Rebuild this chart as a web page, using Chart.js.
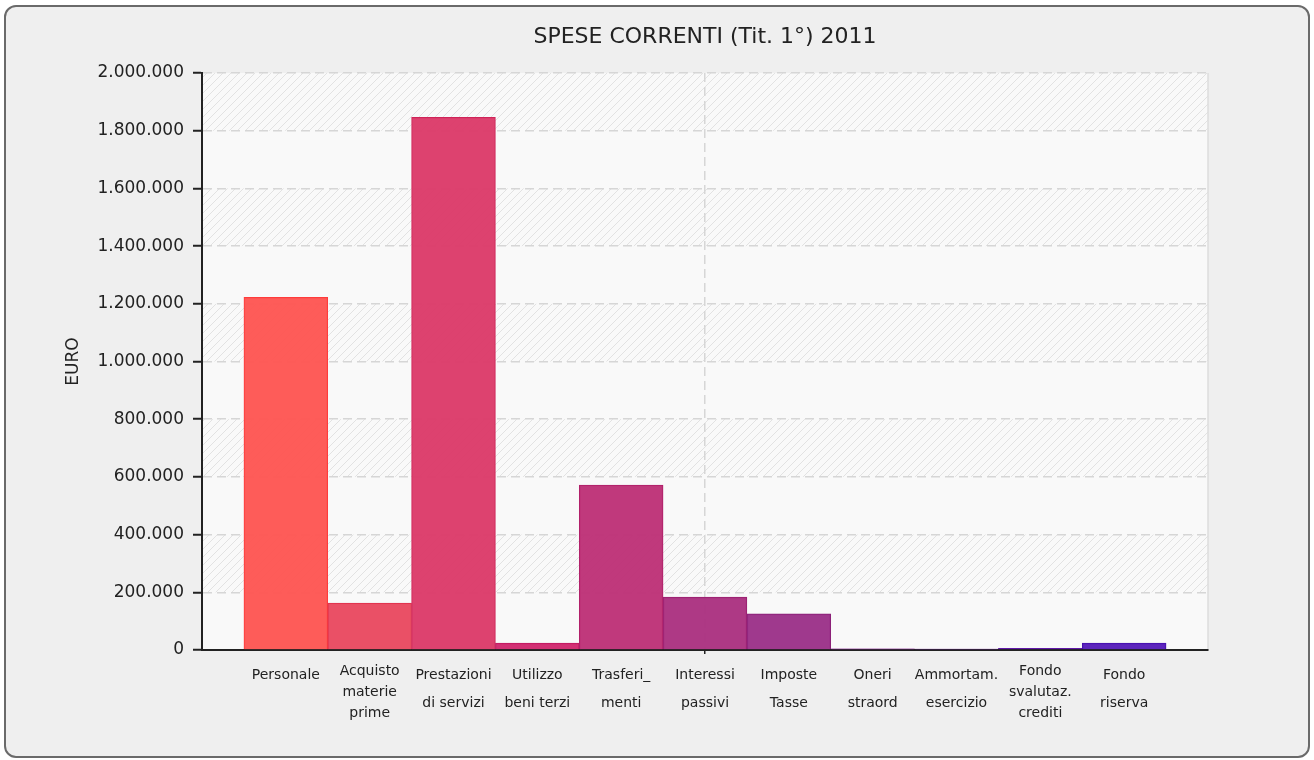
<!DOCTYPE html>
<html>
<head>
<meta charset="utf-8">
<script src="https://cdn.jsdelivr.net/npm/chart.js@4/dist/chart.umd.min.js"></script>
<style>
  body { margin: 0; background: #ffffff; }
  #frame {
    position: absolute; left: 4px; top: 5px; width: 1306px; height: 753px;
    box-sizing: border-box; border: 2px solid #6a6a6a; border-radius: 12px;
    background: #efefef;
  }
  #speseChart { position: absolute; left: 0; top: 0; }
</style>
</head>
<body>
<div id="frame"></div>
<canvas id="speseChart" width="1314" height="760"></canvas>
<script>
// categorie (etichette su più righe)
const categorie = [
    ['Personale'],
    ['Acquisto', 'materie', 'prime'],
    ['Prestazioni', 'di servizi'],
    ['Utilizzo', 'beni terzi'],
    ['Trasferi_', 'menti'],
    ['Interessi', 'passivi'],
    ['Imposte', 'Tasse'],
    ['Oneri', 'straord'],
    ['Ammortam.', 'esercizio'],
    ['Fondo', 'svalutaz.', 'crediti'],
    ['Fondo', 'riserva']
];
// importi in euro
const importi = [1222000, 163000, 1846000, 24000, 572000, 183000, 125000, 4000, 3000, 6000, 24000];
const colori = ['#fe5552', '#e9485f', '#db3968', '#d0286e', '#bd3076', '#aa3080',
                '#9b3088', '#8c2896', '#7d23a0', '#691eaf', '#561cba'];
const bordi = ['#ff3b3b', '#e0304c', '#cf2458', '#c01a60', '#b0206a', '#9a2070',
               '#8a2078', '#7c1c88', '#6c1894', '#5a14a4', '#4610ac'];
const yTicks = { min: 0, max: 2000000, step: 200000 };
const titolo = 'SPESE CORRENTI (Tit. 1°) 2011';

function formatEuro(v) {
    return String(v).replace(/\B(?=(\d{3})+(?!\d))/g, '.');
}

function makeHatch(ctx) {
    const c = document.createElement('canvas');
    c.width = 8; c.height = 8;
    const p = c.getContext('2d');
    p.strokeStyle = '#e2e2e2';
    p.lineWidth = 1;
    p.beginPath();
    p.moveTo(0, 8); p.lineTo(8, 0);
    p.moveTo(-1, 1); p.lineTo(1, -1);
    p.moveTo(7, 9); p.lineTo(9, 7);
    p.stroke();
    return ctx.createPattern(c, 'repeat');
}

// sfondo dell'area grafico a fasce tratteggiate
const plotBack = {
    id: 'plotBack',
    beforeDraw(chart) {
        const { ctx, chartArea: a, scales: { y } } = chart;
        ctx.save();
        ctx.fillStyle = '#f9f9f9';
        ctx.fillRect(a.left, a.top, a.right - a.left, a.bottom - a.top);
        const pat = makeHatch(ctx);
        for (let i = 0; i < y.ticks.length - 1; i++) {
            if (i % 2 === 0) continue;
            const y0 = y.getPixelForValue(y.ticks[i].value);
            const y1 = y.getPixelForValue(y.ticks[i + 1].value);
            ctx.fillStyle = pat;
            ctx.fillRect(a.left, y1, a.right - a.left, y0 - y1);
        }
        ctx.strokeStyle = '#dddddd';
        ctx.lineWidth = 1.5;
        ctx.beginPath();
        ctx.moveTo(a.right, a.top);
        ctx.lineTo(a.right, a.bottom);
        ctx.stroke();
        ctx.restore();
    }
};

document.addEventListener('DOMContentLoaded', function () {
    const ctx = document.getElementById('speseChart').getContext('2d');
    const centro = Math.floor(categorie.length / 2);
    new Chart(ctx, {
        type: 'bar',
        data: {
            datasets: [{
                label: 'EURO',
                data: importi.map((v, i) => ({ x: i, y: v })),
                backgroundColor: colori.map(c => c + 'f4'),
                borderColor: bordi,
                borderWidth: 1,
                barPercentage: 1,
                categoryPercentage: 1
            }]
        },
        options: {
            responsive: false,
            animation: false,
            layout: { padding: { top: 0, left: 0, right: 106, bottom: 0 } },
            plugins: {
                legend: { display: false },
                tooltip: { enabled: false },
                title: {
                    display: true,
                    text: titolo,
                    fullSize: false,
                    color: '#222222',
                    font: { family: 'DejaVu Sans', size: 22, weight: 'normal', lineHeight: 1.2 },
                    padding: { top: 24, bottom: 22.6 }
                }
            },
            scales: {
                x: {
                    type: 'linear',
                    offset: false,
                    min: -1,
                    max: categorie.length,
                    afterFit: function (scale) { scale.height = 110; },
                    border: { display: true, color: '#222222', width: 2, dash: [9, 5] },
                    grid: {
                        offset: false,
                        color: c => (c.tick && c.tick.value === centro) ? '#d6d6d6' : 'rgba(0,0,0,0)',
                        lineWidth: 1.5,
                        tickColor: c => (c.tick && c.tick.value === centro) ? '#222222' : 'rgba(0,0,0,0)',
                        tickLength: 4,
                        tickBorderDash: []
                    },
                    ticks: {
                        stepSize: 1,
                        autoSkip: false,
                        maxRotation: 0,
                        minRotation: 0,
                        padding: 7,
                        color: '#222222',
                        font: c => {
                            const lab = categorie[c.tick ? c.tick.value : -1];
                            return { family: 'DejaVu Sans', size: 14, lineHeight: (lab && lab.length > 2) ? 1.5 : 2.0 };
                        },
                        callback: function (value) {
                            return categorie[value] || '';
                        }
                    }
                },
                y: {
                    min: yTicks.min,
                    max: yTicks.max,
                    afterFit: function (scale) { scale.width = 202; },
                    border: { display: true, color: '#222222', width: 2, dash: [9, 5] },
                    grid: {
                        color: '#d6d6d6',
                        lineWidth: 1.5,
                        tickColor: '#222222',
                        tickLength: 9,
                        tickWidth: 2,
                        tickBorderDash: []
                    },
                    ticks: {
                        stepSize: yTicks.step,
                        padding: 9,
                        color: '#222222',
                        font: { family: 'DejaVu Sans', size: 17 },
                        callback: function (value) { return formatEuro(value); }
                    },
                    title: {
                        display: true,
                        text: 'EURO',
                        color: '#222222',
                        font: { family: 'DejaVu Sans', size: 17 },
                        padding: { top: 63, bottom: 0 }
                    }
                }
            }
        },
        plugins: [plotBack]
    });
});
</script>
</body>
</html>
